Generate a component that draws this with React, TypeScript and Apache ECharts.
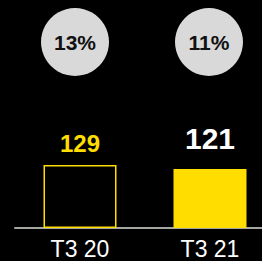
import React, { useEffect, useRef } from "react";
import * as echarts from "echarts";

const categories = ["T3 20", "T3 21"];
const values = [129, 121];
const growthLabels = ["13%", "11%"];

const YELLOW = "#FFDD00";

export default function App() {
  const ref = useRef<HTMLDivElement>(null);
  useEffect(() => {
    if (!ref.current) return;
    const chart = echarts.init(ref.current, null, { renderer: "svg" });
    const font = "'Liberation Sans', Arial, Helvetica, sans-serif";
    chart.setOption({
      animation: false,
      backgroundColor: "#000000",
      grid: [
        { left: 15, width: 260, top: 165, bottom: 33, outerBoundsMode: "none" },
        { left: 15, width: 260, top: 0, height: 84, outerBoundsMode: "none" },
      ],
      xAxis: [
        {
          type: "category",
          data: categories,
          gridIndex: 0,
          axisLine: { show: true, lineStyle: { color: "#a6a6a0", width: 2 } },
          axisTick: { show: false },
          axisLabel: { color: "#ffffff", fontSize: 23, lineHeight: 23, fontFamily: font, margin: 9 },
        },
        {
          type: "category",
          data: categories,
          gridIndex: 1,
          show: false,
        },
      ],
      yAxis: [
        { type: "value", gridIndex: 0, min: 0, max: 129, show: false, splitLine: { show: false } },
        { type: "value", gridIndex: 1, min: 0, max: 1, show: false, splitLine: { show: false } },
      ],
      series: [
        {
          type: "bar",
          xAxisIndex: 0,
          yAxisIndex: 0,
          barWidth: 73,
          data: values.map((v, i) => ({
            value: v,
            itemStyle:
              i === 0
                ? { color: "rgba(0,0,0,0)", borderColor: YELLOW, borderWidth: 1.5 }
                : { color: YELLOW },
            label: {
              show: true,
              position: "top",
              distance: i === 0 ? 10 : 15,
              color: i === 0 ? YELLOW : "#ffffff",
              fontSize: i === 0 ? 24 : 30,
              fontWeight: "bold",
              fontFamily: font,
            },
          })),
        },
        {
          type: "scatter",
          xAxisIndex: 1,
          yAxisIndex: 1,
          symbol: "circle",
          symbolSize: 68,
          itemStyle: { color: "#d9d9d9", opacity: 1 },
          data: growthLabels.map((g, i) => ({
            value: [categories[i], 0.5],
            symbolOffset: [i === 0 ? -5 : -1, 0],
            label: {
              show: true,
              position: "inside",
              formatter: g,
              color: "#111111",
              opacity: 1,
              fontSize: 21,
              fontWeight: "bold",
              fontFamily: font,
            },
          })),
        },
      ],
    });
    return () => chart.dispose();
  }, []);
  return <div ref={ref} style={{ width: 262, height: 261, position: "absolute", left: 0, top: 0 }} />;
}
